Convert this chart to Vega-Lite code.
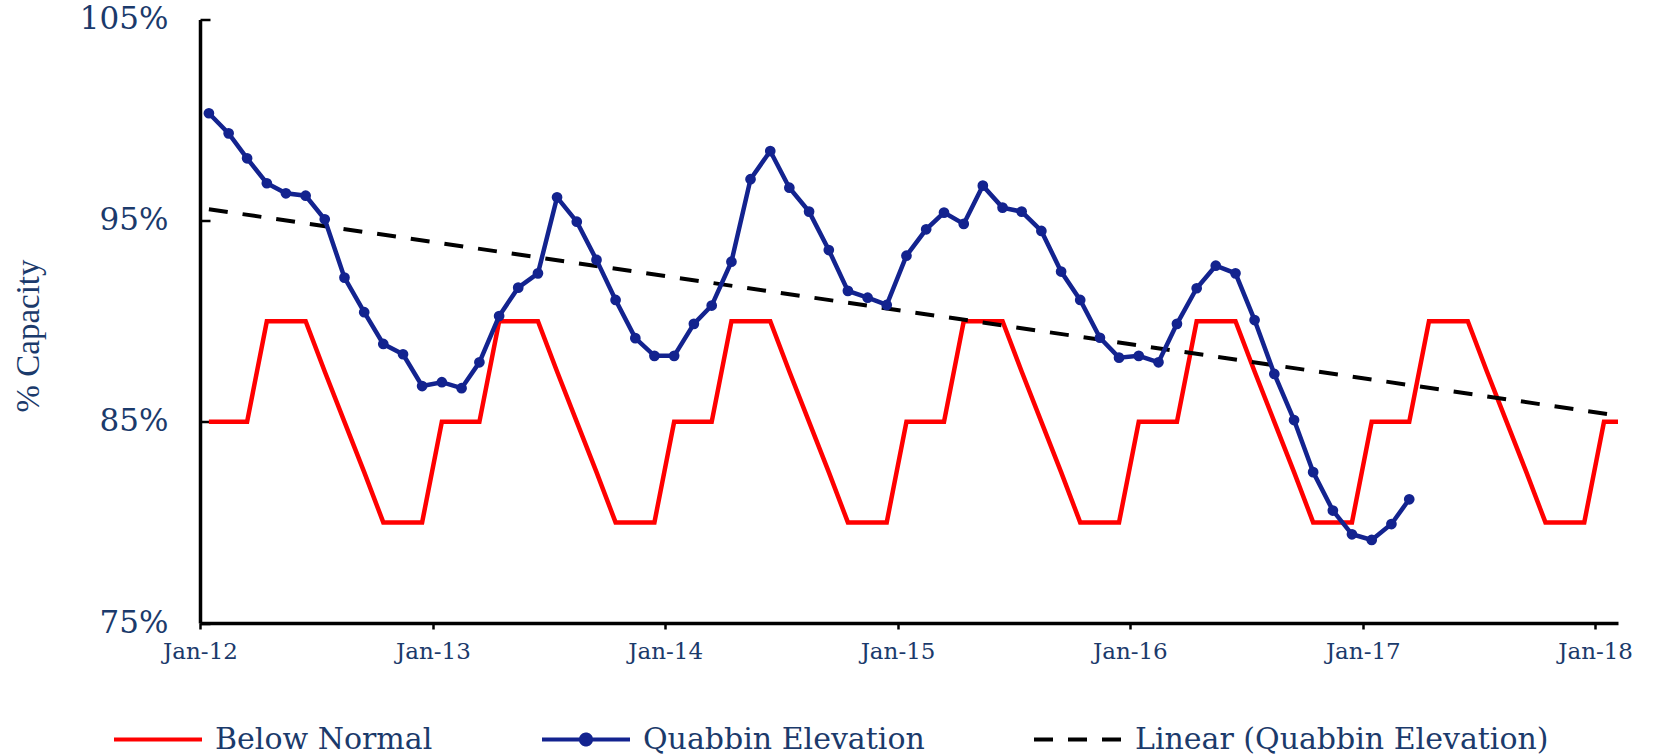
{
  "$schema": "https://vega.github.io/schema/vega-lite/v6.json",
  "autosize": {"type": "none"},
  "width": 1418,
  "height": 603.5,
  "padding": {"left": 200, "top": 19.5, "right": 52, "bottom": 132},
  "background": "white",
  "datasets": {
    "below": [
      {"date": "2012-01-15", "series": "Below Normal", "value": 85},
      {"date": "2012-02-15", "series": "Below Normal", "value": 85},
      {"date": "2012-03-15", "series": "Below Normal", "value": 85},
      {"date": "2012-04-15", "series": "Below Normal", "value": 90},
      {"date": "2012-05-15", "series": "Below Normal", "value": 90},
      {"date": "2012-06-15", "series": "Below Normal", "value": 90},
      {"date": "2012-07-15", "series": "Below Normal", "value": 87.5},
      {"date": "2012-08-15", "series": "Below Normal", "value": 85},
      {"date": "2012-09-15", "series": "Below Normal", "value": 82.5},
      {"date": "2012-10-15", "series": "Below Normal", "value": 80},
      {"date": "2012-11-15", "series": "Below Normal", "value": 80},
      {"date": "2012-12-15", "series": "Below Normal", "value": 80},
      {"date": "2013-01-15", "series": "Below Normal", "value": 85},
      {"date": "2013-02-15", "series": "Below Normal", "value": 85},
      {"date": "2013-03-15", "series": "Below Normal", "value": 85},
      {"date": "2013-04-15", "series": "Below Normal", "value": 90},
      {"date": "2013-05-15", "series": "Below Normal", "value": 90},
      {"date": "2013-06-15", "series": "Below Normal", "value": 90},
      {"date": "2013-07-15", "series": "Below Normal", "value": 87.5},
      {"date": "2013-08-15", "series": "Below Normal", "value": 85},
      {"date": "2013-09-15", "series": "Below Normal", "value": 82.5},
      {"date": "2013-10-15", "series": "Below Normal", "value": 80},
      {"date": "2013-11-15", "series": "Below Normal", "value": 80},
      {"date": "2013-12-15", "series": "Below Normal", "value": 80},
      {"date": "2014-01-15", "series": "Below Normal", "value": 85},
      {"date": "2014-02-15", "series": "Below Normal", "value": 85},
      {"date": "2014-03-15", "series": "Below Normal", "value": 85},
      {"date": "2014-04-15", "series": "Below Normal", "value": 90},
      {"date": "2014-05-15", "series": "Below Normal", "value": 90},
      {"date": "2014-06-15", "series": "Below Normal", "value": 90},
      {"date": "2014-07-15", "series": "Below Normal", "value": 87.5},
      {"date": "2014-08-15", "series": "Below Normal", "value": 85},
      {"date": "2014-09-15", "series": "Below Normal", "value": 82.5},
      {"date": "2014-10-15", "series": "Below Normal", "value": 80},
      {"date": "2014-11-15", "series": "Below Normal", "value": 80},
      {"date": "2014-12-15", "series": "Below Normal", "value": 80},
      {"date": "2015-01-15", "series": "Below Normal", "value": 85},
      {"date": "2015-02-15", "series": "Below Normal", "value": 85},
      {"date": "2015-03-15", "series": "Below Normal", "value": 85},
      {"date": "2015-04-15", "series": "Below Normal", "value": 90},
      {"date": "2015-05-15", "series": "Below Normal", "value": 90},
      {"date": "2015-06-15", "series": "Below Normal", "value": 90},
      {"date": "2015-07-15", "series": "Below Normal", "value": 87.5},
      {"date": "2015-08-15", "series": "Below Normal", "value": 85},
      {"date": "2015-09-15", "series": "Below Normal", "value": 82.5},
      {"date": "2015-10-15", "series": "Below Normal", "value": 80},
      {"date": "2015-11-15", "series": "Below Normal", "value": 80},
      {"date": "2015-12-15", "series": "Below Normal", "value": 80},
      {"date": "2016-01-15", "series": "Below Normal", "value": 85},
      {"date": "2016-02-15", "series": "Below Normal", "value": 85},
      {"date": "2016-03-15", "series": "Below Normal", "value": 85},
      {"date": "2016-04-15", "series": "Below Normal", "value": 90},
      {"date": "2016-05-15", "series": "Below Normal", "value": 90},
      {"date": "2016-06-15", "series": "Below Normal", "value": 90},
      {"date": "2016-07-15", "series": "Below Normal", "value": 87.5},
      {"date": "2016-08-15", "series": "Below Normal", "value": 85},
      {"date": "2016-09-15", "series": "Below Normal", "value": 82.5},
      {"date": "2016-10-15", "series": "Below Normal", "value": 80},
      {"date": "2016-11-15", "series": "Below Normal", "value": 80},
      {"date": "2016-12-15", "series": "Below Normal", "value": 80},
      {"date": "2017-01-15", "series": "Below Normal", "value": 85},
      {"date": "2017-02-15", "series": "Below Normal", "value": 85},
      {"date": "2017-03-15", "series": "Below Normal", "value": 85},
      {"date": "2017-04-15", "series": "Below Normal", "value": 90},
      {"date": "2017-05-15", "series": "Below Normal", "value": 90},
      {"date": "2017-06-15", "series": "Below Normal", "value": 90},
      {"date": "2017-07-15", "series": "Below Normal", "value": 87.5},
      {"date": "2017-08-15", "series": "Below Normal", "value": 85},
      {"date": "2017-09-15", "series": "Below Normal", "value": 82.5},
      {"date": "2017-10-15", "series": "Below Normal", "value": 80},
      {"date": "2017-11-15", "series": "Below Normal", "value": 80},
      {"date": "2017-12-15", "series": "Below Normal", "value": 80},
      {"date": "2018-01-15", "series": "Below Normal", "value": 85},
      {"date": "2018-02-15", "series": "Below Normal", "value": 85}
    ],
    "quabbin": [
      {"date": "2012-01-15", "series": "Quabbin Elevation", "value": 100.34},
      {"date": "2012-02-15", "series": "Quabbin Elevation", "value": 99.34},
      {"date": "2012-03-15", "series": "Quabbin Elevation", "value": 98.1},
      {"date": "2012-04-15", "series": "Quabbin Elevation", "value": 96.86},
      {"date": "2012-05-15", "series": "Quabbin Elevation", "value": 96.36},
      {"date": "2012-06-15", "series": "Quabbin Elevation", "value": 96.24},
      {"date": "2012-07-15", "series": "Quabbin Elevation", "value": 95.07},
      {"date": "2012-08-15", "series": "Quabbin Elevation", "value": 92.17},
      {"date": "2012-09-15", "series": "Quabbin Elevation", "value": 90.45},
      {"date": "2012-10-15", "series": "Quabbin Elevation", "value": 88.87},
      {"date": "2012-11-15", "series": "Quabbin Elevation", "value": 88.36},
      {"date": "2012-12-15", "series": "Quabbin Elevation", "value": 86.78},
      {"date": "2013-01-15", "series": "Quabbin Elevation", "value": 86.97},
      {"date": "2013-02-15", "series": "Quabbin Elevation", "value": 86.67},
      {"date": "2013-03-15", "series": "Quabbin Elevation", "value": 87.96},
      {"date": "2013-04-15", "series": "Quabbin Elevation", "value": 90.26},
      {"date": "2013-05-15", "series": "Quabbin Elevation", "value": 91.67},
      {"date": "2013-06-15", "series": "Quabbin Elevation", "value": 92.38},
      {"date": "2013-07-15", "series": "Quabbin Elevation", "value": 96.16},
      {"date": "2013-08-15", "series": "Quabbin Elevation", "value": 94.95},
      {"date": "2013-09-15", "series": "Quabbin Elevation", "value": 93.05},
      {"date": "2013-10-15", "series": "Quabbin Elevation", "value": 91.06},
      {"date": "2013-11-15", "series": "Quabbin Elevation", "value": 89.16},
      {"date": "2013-12-15", "series": "Quabbin Elevation", "value": 88.28},
      {"date": "2014-01-15", "series": "Quabbin Elevation", "value": 88.28},
      {"date": "2014-02-15", "series": "Quabbin Elevation", "value": 89.87},
      {"date": "2014-03-15", "series": "Quabbin Elevation", "value": 90.78},
      {"date": "2014-04-15", "series": "Quabbin Elevation", "value": 92.96},
      {"date": "2014-05-15", "series": "Quabbin Elevation", "value": 97.06},
      {"date": "2014-06-15", "series": "Quabbin Elevation", "value": 98.46},
      {"date": "2014-07-15", "series": "Quabbin Elevation", "value": 96.64},
      {"date": "2014-08-15", "series": "Quabbin Elevation", "value": 95.45},
      {"date": "2014-09-15", "series": "Quabbin Elevation", "value": 93.54},
      {"date": "2014-10-15", "series": "Quabbin Elevation", "value": 91.51},
      {"date": "2014-11-15", "series": "Quabbin Elevation", "value": 91.17},
      {"date": "2014-12-15", "series": "Quabbin Elevation", "value": 90.81},
      {"date": "2015-01-15", "series": "Quabbin Elevation", "value": 93.26},
      {"date": "2015-02-15", "series": "Quabbin Elevation", "value": 94.57},
      {"date": "2015-03-15", "series": "Quabbin Elevation", "value": 95.4},
      {"date": "2015-04-15", "series": "Quabbin Elevation", "value": 94.84},
      {"date": "2015-05-15", "series": "Quabbin Elevation", "value": 96.74},
      {"date": "2015-06-15", "series": "Quabbin Elevation", "value": 95.65},
      {"date": "2015-07-15", "series": "Quabbin Elevation", "value": 95.45},
      {"date": "2015-08-15", "series": "Quabbin Elevation", "value": 94.49},
      {"date": "2015-09-15", "series": "Quabbin Elevation", "value": 92.47},
      {"date": "2015-10-15", "series": "Quabbin Elevation", "value": 91.06},
      {"date": "2015-11-15", "series": "Quabbin Elevation", "value": 89.18},
      {"date": "2015-12-15", "series": "Quabbin Elevation", "value": 88.19},
      {"date": "2016-01-15", "series": "Quabbin Elevation", "value": 88.28},
      {"date": "2016-02-15", "series": "Quabbin Elevation", "value": 87.96},
      {"date": "2016-03-15", "series": "Quabbin Elevation", "value": 89.87},
      {"date": "2016-04-15", "series": "Quabbin Elevation", "value": 91.64},
      {"date": "2016-05-15", "series": "Quabbin Elevation", "value": 92.76},
      {"date": "2016-06-15", "series": "Quabbin Elevation", "value": 92.38},
      {"date": "2016-07-15", "series": "Quabbin Elevation", "value": 90.06},
      {"date": "2016-08-15", "series": "Quabbin Elevation", "value": 87.38},
      {"date": "2016-09-15", "series": "Quabbin Elevation", "value": 85.09},
      {"date": "2016-10-15", "series": "Quabbin Elevation", "value": 82.5},
      {"date": "2016-11-15", "series": "Quabbin Elevation", "value": 80.59},
      {"date": "2016-12-15", "series": "Quabbin Elevation", "value": 79.41},
      {"date": "2017-01-15", "series": "Quabbin Elevation", "value": 79.13},
      {"date": "2017-02-15", "series": "Quabbin Elevation", "value": 79.92},
      {"date": "2017-03-15", "series": "Quabbin Elevation", "value": 81.15}
    ],
    "trend": [
      {"date": "2012-01-15", "series": "Linear (Quabbin Elevation)", "value": 95.57},
      {"date": "2018-01-20", "series": "Linear (Quabbin Elevation)", "value": 85.39}
    ]
  },
  "encoding": {
    "x": {
      "field": "date",
      "type": "temporal",
      "scale": {
        "type": "utc",
        "domain": [
          {"year": 2012, "month": 1, "date": 1, "utc": true},
          {"year": 2018, "month": 2, "date": 6, "utc": true}
        ]
      },
      "axis": {
        "title": null,
        "grid": false,
        "values": [
          {"year": 2012, "month": 1, "date": 1, "utc": true},
          {"year": 2013, "month": 1, "date": 1, "utc": true},
          {"year": 2014, "month": 1, "date": 1, "utc": true},
          {"year": 2015, "month": 1, "date": 1, "utc": true},
          {"year": 2016, "month": 1, "date": 1, "utc": true},
          {"year": 2017, "month": 1, "date": 1, "utc": true},
          {"year": 2018, "month": 1, "date": 1, "utc": true}
        ],
        "format": "%b-%y",
        "labelFont": "DejaVu Serif",
        "labelFontSize": 23,
        "labelColor": "#1b3a6b",
        "labelPadding": 11,
        "labelFlush": false,
        "domainColor": "black",
        "domainWidth": 3.5,
        "tickColor": "black",
        "tickWidth": 2.5,
        "tickSize": 6
      }
    },
    "y": {
      "field": "value",
      "type": "quantitative",
      "scale": {"domain": [75, 105], "zero": false, "nice": false},
      "axis": {
        "title": "% Capacity",
        "titleFont": "Liberation Serif",
        "titleFontSize": 33,
        "titleFontWeight": "normal",
        "titleColor": "#1b3a6b",
        "titlePadding": 34,
        "titleY": 316,
        "grid": false,
        "values": [75, 85, 95, 105],
        "labelExpr": "datum.value + '%'",
        "labelFont": "DejaVu Serif",
        "labelFontSize": 31,
        "labelColor": "#1b3a6b",
        "labelPadding": 42,
        "domainColor": "black",
        "domainWidth": 3.5,
        "tickColor": "black",
        "tickWidth": 2.5,
        "tickSize": -10
      }
    },
    "color": {
      "field": "series",
      "type": "nominal",
      "scale": {
        "domain": ["Below Normal", "Quabbin Elevation", "Linear (Quabbin Elevation)"],
        "range": ["#ff0000", "#13238f", "#000000"]
      },
      "legend": {
        "title": null,
        "orient": "none",
        "legendX": -88,
        "legendY": 674,
        "direction": "horizontal",
        "symbolType": "stroke",
        "symbolSize": 7744,
        "symbolStrokeWidth": 4,
        "labelFont": "DejaVu Serif",
        "labelFontSize": 30,
        "labelColor": "#1b3a6b",
        "labelOffset": 11,
        "labelLimit": 0,
        "columnPadding": 101,
        "encode": {
          "symbols": {
            "update": {
              "shape": {"signal": "datum.value === 'Quabbin Elevation' ? 'M-1,0H1M0.115,0A0.115,0.115,0,1,1,-0.115,0A0.115,0.115,0,1,1,0.115,0Z' : 'stroke'"},
              "fill": {"signal": "datum.value === 'Quabbin Elevation' ? '#13238f' : 'transparent'"},
              "strokeDash": {"signal": "datum.value === 'Linear (Quabbin Elevation)' ? [19, 15] : [1, 0]"}
            }
          }
        }
      }
    }
  },
  "layer": [
    {
      "data": {"name": "below"},
      "mark": {"type": "line", "strokeWidth": 4.5, "clip": true}
    },
    {
      "data": {"name": "trend"},
      "mark": {"type": "line", "strokeWidth": 4, "strokeDash": [19, 15], "clip": true}
    },
    {
      "data": {"name": "quabbin"},
      "mark": {"type": "line", "strokeWidth": 4.5, "clip": true}
    },
    {
      "data": {"name": "quabbin"},
      "mark": {"type": "point", "filled": true, "size": 115, "opacity": 1, "color": "#13238f", "clip": true},
      "encoding": {"color": {"value": "#13238f"}}
    }
  ],
  "config": {"view": {"stroke": null}}
}
